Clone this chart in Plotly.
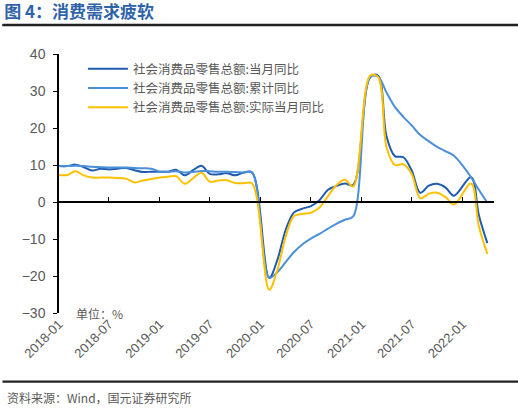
import plotly.graph_objects as go
import pandas as pd

# monthly data, Jan of 2020/2021/2022 not published (Jan-Feb combined)
missing = ['2020-01', '2021-01', '2022-01']
months = [d for d in pd.date_range('2018-01-01', '2022-04-01', freq='MS')
          if d.strftime('%Y-%m') not in missing]

retail_month = [9.7, 9.7, 10.1, 9.4, 8.5, 9.0, 8.8, 9.0, 9.2, 8.6, 8.1, 8.2,
                8.2, 8.2, 8.7, 7.2, 8.6, 9.8, 7.6, 7.5, 7.8, 7.2, 8.0, 8.0,
                -20.5, -15.8, -7.5, -2.8, -1.8, -1.1, 0.5, 3.3, 4.3, 5.0, 4.6,
                33.8, 34.2, 17.7, 12.4, 12.1, 8.5, 2.5, 4.4, 4.9, 3.9, 1.7,
                6.7, -3.5, -11.1]
retail_cum = [9.7, 9.7, 9.8, 9.7, 9.5, 9.4, 9.3, 9.3, 9.3, 9.2, 9.1, 9.0,
              8.2, 8.2, 8.3, 8.0, 8.1, 8.4, 8.3, 8.2, 8.2, 8.1, 8.0, 8.0,
              -20.5, -19.0, -16.2, -13.5, -11.4, -9.9, -8.6, -7.2, -5.9, -4.8, -3.9,
              33.8, 33.9, 29.6, 25.7, 23.0, 20.7, 18.1, 16.4, 14.9, 13.7, 12.5,
              6.7, 3.3, -0.2]
retail_real = [7.3, 7.3, 8.3, 7.2, 6.6, 6.6, 6.6, 6.5, 6.3, 5.3, 5.8, 6.2,
               6.6, 6.8, 7.0, 4.9, 6.4, 7.9, 5.5, 5.8, 5.9, 5.1, 5.1, 5.0,
               -23.7, -18.5, -9.3, -3.8, -3.2, -2.9, -1.5, 1.6, 4.5, 6.0, 4.2,
               34.2, 33.8, 14.8, 10.0, 10.2, 7.6, 1.0, 2.2, 2.5, 1.3, -0.7,
               5.0, -6.5, -14.0]

names = ['社会消费品零售总额:当月同比', '社会消费品零售总额:累计同比', '社会消费品零售总额:实际当月同比']
colors = ['#1F5CB0', '#4A8FD9', '#FFC000']
xaxes = ['x', 'x', 'x2']   # last series on the overlaid axis that draws the zero line
tick_vals = pd.date_range('2018-01-01', '2022-01-01', freq='6MS')
tick_text = [d.strftime('%Y-%m') for d in tick_vals]

gray = '#595959'
x_range = ['2018-01-01', '2022-04-25']

fig = go.Figure()
for name, ys, c, xa in zip(names, [retail_month, retail_cum, retail_real], colors, xaxes):
    fig.add_trace(go.Scatter(x=months, y=ys, name=name, mode='lines', xaxis=xa,
                             line=dict(color=c, width=2, shape='spline', smoothing=1.0)))

fig.update_layout(
    width=518, height=414,
    margin=dict(l=58.5, r=24, t=54, b=101),
    paper_bgcolor='white', plot_bgcolor='white',
    font=dict(family='Liberation Sans, Arial', color=gray),
    title=dict(text='<b>图 4：消费需求疲软</b>', x=0.008, xanchor='left', xref='container',
               y=0.971, yanchor='middle', yref='container',
               font=dict(family='Noto Sans CJK SC', size=17, color='#2F63A8')),
    showlegend=True,
    legend=dict(x=0.055, y=1.0, xanchor='left', yanchor='top',
                bgcolor='rgba(0,0,0,0)', itemwidth=40, tracegroupgap=0,
                font=dict(family='Noto Sans CJK SC', size=12.5, color=gray)),
    xaxis=dict(type='date', range=x_range, tickvals=tick_vals, ticktext=tick_text,
               tickangle=-45, ticks='', showline=False, showgrid=False, zeroline=False,
               tickfont=dict(size=13, color=gray)),
    xaxis2=dict(type='date', overlaying='x', matches='x', range=x_range, anchor='free',
                position=3 / 7, tickvals=tick_vals, showticklabels=False,
                ticks='inside', ticklen=4, tickwidth=1.3, tickcolor='black',
                showline=True, linecolor='black', linewidth=1.5, showgrid=False,
                zeroline=False),
    yaxis=dict(range=[-30, 40], dtick=10, showline=True, linecolor='black', linewidth=1.5,
               ticks='outside', ticklen=4, tickwidth=1.3, tickcolor='black',
               showgrid=False, zeroline=False, ticklabelstandoff=5,
               tickfont=dict(size=14, color=gray)),
)

# rules under the title and above the source note
fig.add_shape(type='rect', xref='paper', yref='paper', layer='above',
              x0=-0.13, x1=1.06, y0=1.108, y1=1.116,
              fillcolor='#222222', line=dict(width=0))
fig.add_shape(type='line', xref='paper', yref='y domain', layer='above',
              x0=-0.13, x1=1.06, y0=1.112, y1=1.112,
              line=dict(color='#222222', width=2.5))
fig.add_shape(type='rect', xref='paper', yref='paper', layer='above',
              x0=-0.13, x1=1.06, y0=-0.269, y1=-0.261,
              fillcolor='#222222', line=dict(width=0))
fig.add_annotation(text='资料来源：Wind，国元证券研究所', xref='paper', yref='paper',
                   x=-0.123, y=-0.325, xanchor='left', yanchor='middle', showarrow=False,
                   font=dict(family='Noto Sans CJK SC', size=12, color=gray))
fig.add_annotation(text='单位：%', xref='paper', yref='paper',
                   x=0.035, y=0.0, xanchor='left', yanchor='middle', showarrow=False,
                   font=dict(family='Noto Sans CJK SC', size=12, color=gray))

# page has a default 8px body margin; drop it so the figure sits at the window corner
fig.write_html("out.html", config={'displayModeBar': False},
               post_script="document.body.style.margin='0';")
